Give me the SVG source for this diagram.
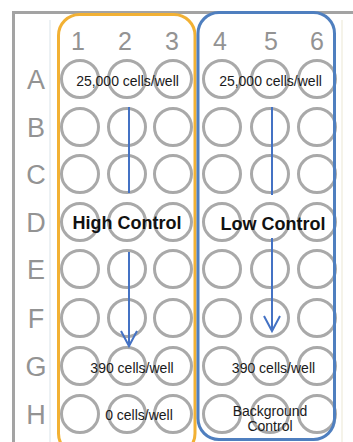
<svg xmlns="http://www.w3.org/2000/svg" width="353" height="442" viewBox="0 0 353 442">
<style>
.well{fill:none;stroke:#a9a9a9;stroke-width:3}
.hdr{font-family:"Liberation Sans",Arial,sans-serif;font-size:25px;fill:#939393;text-anchor:middle}
.row{font-size:27px}
.lbl{font-family:"Liberation Sans",Arial,sans-serif;font-size:14px;fill:#1a1a1a;text-anchor:middle}
.big{font-family:"Liberation Sans",Arial,sans-serif;font-size:18px;font-weight:bold;fill:#111;text-anchor:middle}
.conn{fill:none;stroke:#4472c4;stroke-width:2}
</style>
<defs>
<circle id="w" r="18.5" class="well"/>
<marker id="ah" markerUnits="userSpaceOnUse" viewBox="-10 -18 20 20" refX="0" refY="0" markerWidth="20" markerHeight="20" orient="auto-start-reverse" overflow="visible">
<path d="M-15,-8 L0,0 L-15,8" fill="none" stroke="#4472c4" stroke-width="2"/>
</marker>
</defs>
<rect width="353" height="442" fill="#ffffff"/>
<g id="plate">
<path d="M13.5,442 V12.5 H353" fill="none" stroke="#a3a3a3" stroke-width="3"/>
<line x1="50" y1="20" x2="50" y2="442" stroke="#e6edf0" stroke-width="1.5"/>
<line x1="342" y1="20" x2="342" y2="442" stroke="#f2efe2" stroke-width="1.5"/>
</g>
<g id="col-headers">
<text class="hdr" x="78" y="50">1</text>
<text class="hdr" x="125" y="50">2</text>
<text class="hdr" x="172" y="50">3</text>
<text class="hdr" x="220" y="50">4</text>
<text class="hdr" x="271" y="50">5</text>
<text class="hdr" x="317" y="50">6</text>
</g>
<g id="row-headers">
<text class="hdr row" x="36" y="89">A</text>
<text class="hdr row" x="36" y="137">B</text>
<text class="hdr row" x="36" y="184">C</text>
<text class="hdr row" x="36" y="232">D</text>
<text class="hdr row" x="36" y="279">E</text>
<text class="hdr row" x="36" y="328">F</text>
<text class="hdr row" x="36" y="376">G</text>
<text class="hdr row" x="36" y="424">H</text>
</g>
<g id="wells">
<g id="row-A"><use href="#w" x="80" y="79"/><use href="#w" x="127" y="79"/><use href="#w" x="173" y="79"/><use href="#w" x="222" y="79"/><use href="#w" x="270" y="79"/><use href="#w" x="317" y="79"/></g>
<g id="row-B"><use href="#w" x="80" y="127"/><use href="#w" x="127" y="127"/><use href="#w" x="173" y="127"/><use href="#w" x="222" y="127"/><use href="#w" x="270" y="127"/><use href="#w" x="317" y="127"/></g>
<g id="row-C"><use href="#w" x="80" y="174"/><use href="#w" x="127" y="174"/><use href="#w" x="173" y="174"/><use href="#w" x="222" y="174"/><use href="#w" x="270" y="174"/><use href="#w" x="317" y="174"/></g>
<g id="row-D"><use href="#w" x="80" y="222"/><use href="#w" x="127" y="222"/><use href="#w" x="173" y="222"/><use href="#w" x="222" y="222"/><use href="#w" x="270" y="222"/><use href="#w" x="317" y="222"/></g>
<g id="row-E"><use href="#w" x="80" y="269"/><use href="#w" x="127" y="269"/><use href="#w" x="173" y="269"/><use href="#w" x="222" y="269"/><use href="#w" x="270" y="269"/><use href="#w" x="317" y="269"/></g>
<g id="row-F"><use href="#w" x="80" y="318"/><use href="#w" x="127" y="318"/><use href="#w" x="173" y="318"/><use href="#w" x="222" y="318"/><use href="#w" x="270" y="318"/><use href="#w" x="317" y="318"/></g>
<g id="row-G"><use href="#w" x="80" y="366"/><use href="#w" x="127" y="366"/><use href="#w" x="173" y="366"/><use href="#w" x="222" y="366"/><use href="#w" x="270" y="366"/><use href="#w" x="317" y="366"/></g>
<g id="row-H"><use href="#w" x="80" y="414"/><use href="#w" x="127" y="414"/><use href="#w" x="173" y="414"/><use href="#w" x="222" y="414"/><use href="#w" x="270" y="414"/><use href="#w" x="317" y="414"/></g>
</g>
<g id="high-control">
<rect x="58.5" y="14.5" width="136.5" height="440" rx="21" fill="none" stroke="#f2b134" stroke-width="3"/>
<text class="lbl" x="127.5" y="86">25,000 cells/well</text>
<text class="big" x="127" y="229">High Control</text>
<text class="lbl" x="132" y="373">390 cells/well</text>
<text class="lbl" x="139" y="420">0 cells/well</text>
</g>
<g id="low-control">
<rect x="198" y="12.5" width="136.5" height="427" rx="21" fill="none" stroke="#4f7fbf" stroke-width="3"/>
<text class="lbl" x="270.5" y="86">25,000 cells/well</text>
<text class="big" x="273" y="230">Low Control</text>
<text class="lbl" x="273.5" y="373">390 cells/well</text>
<text class="lbl" x="270" y="416">Background</text>
<text class="lbl" x="270" y="431">Control</text>
</g>
<g id="connectors">
<line class="conn" x1="129" y1="107" x2="129" y2="193"/>
<line class="conn" x1="129" y1="252" x2="129" y2="346" marker-end="url(#ah)"/>
<line class="conn" x1="272" y1="107" x2="272" y2="195"/>
<line class="conn" x1="272" y1="238" x2="272" y2="331" marker-end="url(#ah)"/>
</g>
</svg>
